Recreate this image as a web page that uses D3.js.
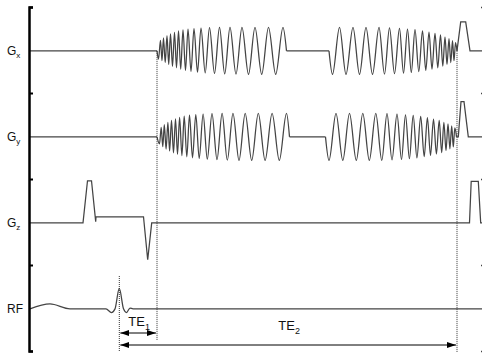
<!DOCTYPE html>
<html>
<head>
<meta charset="utf-8">
<script src="https://cdn.jsdelivr.net/npm/d3@7"></script>
<style>
body { margin: 0; background: #fff; }
svg { display: block; font-family: Arial, "Liberation Sans", sans-serif; }
</style>
</head>
<body>
<svg id="chart" width="482" height="354"></svg>
<script>
// channel labels (main text, subscript)
var channelLabels = [["G", "x"], ["G", "y"], ["G", "z"], ["RF", ""]];

// time in ms, gradient in units of the spiral maximum
var gxSpiralOut = [[12.7,0],[12.85,-0.35],[13.05,0.45],[13.2,-0.42],[13.35,0.55],[13.52,-0.5],[13.7,0.65],[13.87,-0.58],[14.05,0.72],[14.25,-0.66],[14.45,0.79],[14.65,-0.72],[14.85,0.85],[15.07,-0.78],[15.3,0.89],[15.55,-0.83],[15.8,0.93],[16.1,-0.87],[16.4,0.95],[16.75,-0.91],[17.1,0.97],[17.52,-0.94],[17.95,0.99],[18.45,-0.96],[18.95,1],[19.47,-0.98],[20.0,1],[20.6,-0.99],[21.2,1],[21.85,-1],[22.5,1],[23.17,-1],[23.85,1],[24.57,-1],[25.3,1],[25.65,0]];
var gySpiralOut = [[12.7,0],[12.95,-0.3],[13.12,0.4],[13.28,-0.42],[13.43,0.52],[13.61,-0.52],[13.79,0.62],[13.96,-0.6],[14.15,0.7],[14.35,-0.68],[14.55,0.77],[14.75,-0.74],[14.96,0.83],[15.19,-0.8],[15.42,0.88],[15.68,-0.85],[15.95,0.92],[16.25,-0.89],[16.58,0.95],[16.92,-0.92],[17.31,0.97],[17.73,-0.95],[18.2,0.99],[18.7,-0.97],[19.21,1],[19.73,-0.99],[20.3,1],[20.9,-1],[21.52,1],[22.17,-1],[22.83,1],[23.51,-1],[24.21,1],[24.93,-1],[25.65,1],[25.95,0]];
var gxSpiralIn = [[29.9,0],[30.25,-1],[30.95,1],[31.6,-1],[32.3,1],[32.95,-1],[33.6,1],[34.25,-1],[34.9,1],[35.45,-0.99],[35.95,0.98],[36.45,-0.97],[36.95,0.96],[37.35,-0.95],[37.75,0.93],[38.13,-0.92],[38.5,0.9],[38.88,-0.88],[39.25,0.85],[39.58,-0.83],[39.9,0.8],[40.2,-0.78],[40.5,0.74],[40.78,-0.72],[41.05,0.68],[41.28,-0.65],[41.5,0.6],[41.7,-0.58],[41.9,0.52],[42.08,-0.5],[42.25,0.44],[42.4,-0.42],[42.55,0.35],[42.7,0]];
var gySpiralIn = [[29.55,0],[29.9,-1],[30.6,1],[31.28,-1],[31.95,1],[32.63,-1],[33.28,1],[33.93,-1],[34.58,1],[35.18,-1],[35.7,0.99],[36.2,-0.98],[36.7,0.97],[37.15,-0.96],[37.55,0.94],[37.94,-0.93],[38.32,0.91],[38.69,-0.89],[39.07,0.87],[39.42,-0.84],[39.74,0.82],[40.05,-0.79],[40.35,0.76],[40.64,-0.73],[40.92,0.7],[41.17,-0.67],[41.39,0.62],[41.6,-0.59],[41.8,0.55],[41.99,-0.51],[42.17,0.47],[42.33,-0.43],[42.48,0.38],[42.65,0]];

// straight parts: flat baselines and trapezoid lobes
var gxLines = [[[0,0],[12.7,0]], [[25.65,0],[29.9,0]], [[42.7,0],[43.07,1.23],[43.57,1.23],[44.0,0],[45.2,0]]];
var gyLines = [[[0,0],[12.7,0]], [[25.95,0],[29.55,0]], [[42.65,0],[42.83,0],[43.1,1.5],[43.4,1.5],[43.83,0],[45.2,0]]];
var gzLines = [[[0,0],[5.3,0],[5.75,1.79],[6.15,1.79],[6.57,0.05],[6.6,0.26],[11.35,0.26],[11.77,-1.57],[12.17,0],[43.95,0],[44.12,1.77],[44.83,1.77],[45.07,0],[45.2,0]]];

// RF pulse, relative amplitude
var rfPulse = [[0,0],[2,0.24],[4,0],[7.6,0],[8.15,-0.18],[8.5,0],[8.93,1],[9.35,0],[9.65,-0.18],[10,0.04],[10.3,0],[45.2,0]];

// echo times
var rfCenter = 8.93;
var echoTimes = [12.7, 42.7];
var echoLabels = ["1", "2"];

var svg = d3.select("#chart");

var x = d3.scaleLinear().domain([0, 45.2]).range([30, 482]);
var row = d3.scaleLinear().domain([0, 4]).range([7, 351]);
var g = d3.scaleLinear().domain([-1, 1]).range([23.5, -23.5]);
var rf = d3.scaleLinear().domain([0, 1]).range([0, -20.5]);

function base(i) { return row(i + 0.51); }

var channels = [
    { lines: gxLines, spirals: [gxSpiralOut, gxSpiralIn] },
    { lines: gyLines, spirals: [gySpiralOut, gySpiralIn] },
    { lines: gzLines, spirals: [] }
];

var wave = svg.append("g")
    .attr("fill", "none")
    .attr("stroke", "#444")
    .attr("stroke-width", 1.25);

channels.forEach(function (ch, i) {
    var y0 = base(i);
    var straight = d3.line()
        .x(function (d) { return x(d[0]); })
        .y(function (d) { return y0 + g(d[1]); });
    var smooth = d3.line()
        .x(function (d) { return x(d[0]); })
        .y(function (d) { return y0 + g(d[1]); })
        .curve(d3.curveMonotoneX);

    ch.lines.forEach(function (seg) {
        wave.append("path").datum(seg).attr("d", straight);
    });
    ch.spirals.forEach(function (seg) {
        wave.append("path").datum(seg).attr("d", smooth);
    });
});

// RF line
var rfLine = d3.line()
    .x(function (d) { return x(d[0]); })
    .y(function (d) { return base(3) + rf(d[1]); })
    .curve(d3.curveMonotoneX);

wave.append("path").datum(rfPulse).attr("d", rfLine);

// dotted timing lines
var dots = svg.append("g")
    .attr("stroke", "#333")
    .attr("stroke-width", 1)
    .attr("stroke-dasharray", "1,1");

dots.append("line")
    .attr("x1", x(rfCenter)).attr("x2", x(rfCenter))
    .attr("y1", 276).attr("y2", 351);
dots.append("line")
    .attr("x1", x(echoTimes[0])).attr("x2", x(echoTimes[0]))
    .attr("y1", base(0)).attr("y2", 340);
dots.append("line")
    .attr("x1", x(echoTimes[1])).attr("x2", x(echoTimes[1]))
    .attr("y1", base(0)).attr("y2", 352);

// arrows
var defs = svg.append("defs");
defs.append("marker")
    .attr("id", "arrow")
    .attr("markerUnits", "userSpaceOnUse")
    .attr("markerWidth", 9).attr("markerHeight", 6)
    .attr("refX", 9).attr("refY", 3)
    .attr("orient", "auto-start-reverse")
    .append("path")
    .attr("d", "M0,0L9,3L0,6Z")
    .attr("fill", "#000");

var arrowY = [333, 345];
var labelY = [326, 330];

echoTimes.forEach(function (te, i) {
    svg.append("line")
        .attr("x1", x(rfCenter) + 1).attr("x2", x(te) - 1)
        .attr("y1", arrowY[i]).attr("y2", arrowY[i])
        .attr("stroke", "#000").attr("stroke-width", 1)
        .attr("marker-start", "url(#arrow)")
        .attr("marker-end", "url(#arrow)");

    var t = svg.append("text")
        .attr("x", (x(rfCenter) + x(te)) / 2 + 1)
        .attr("y", labelY[i])
        .attr("text-anchor", "middle")
        .attr("font-size", 13)
        .attr("fill", "#111");
    t.append("tspan").text("TE");
    t.append("tspan").attr("dy", 4).attr("font-size", 9).text(echoLabels[i]);
});

// channel labels
channelLabels.forEach(function (lab, i) {
    var t = svg.append("text")
        .attr("x", 7)
        .attr("y", base(i) + 4)
        .attr("font-size", 12)
        .attr("fill", "#111");
    t.append("tspan").text(lab[0]);
    if (lab[1]) t.append("tspan").attr("dy", 3).attr("font-size", 8).text(lab[1]);
});

// left axis
var axisL = svg.append("g")
    .attr("transform", "translate(29,0)")
    .call(d3.axisRight(row).tickValues([0, 1, 2, 3, 4]).tickSize(4).tickSizeOuter(4).tickFormat(""));
axisL.select(".domain").attr("stroke", "#000").attr("stroke-width", 2.5);
axisL.selectAll(".tick line").attr("stroke", "#000").attr("stroke-width", 2);

// right axis (mostly outside the frame)
var axisR = svg.append("g")
    .attr("transform", "translate(484,0)")
    .call(d3.axisLeft(row).tickValues([0, 1, 2, 3, 4]).tickSize(3).tickSizeOuter(0).tickFormat(""));
axisR.select(".domain").attr("stroke", "none");
axisR.selectAll(".tick line").attr("stroke", "#444").attr("stroke-width", 1.5);
</script>
</body>
</html>
